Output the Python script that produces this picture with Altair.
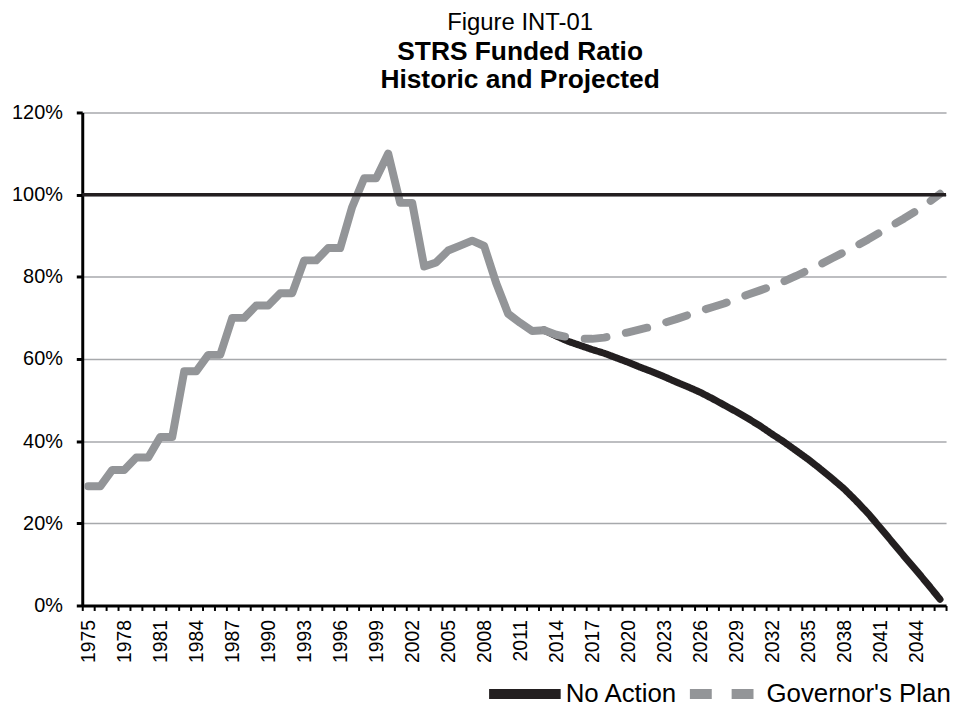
import altair as alt
import pandas as pd

# ---- data ----
hist_years = list(range(1975, 2014))
hist_values = [29, 29, 33, 33, 36, 36, 41, 41, 57, 57, 61, 61, 70, 70, 73, 73, 76, 76,
               84, 84, 87, 87, 97, 104, 104, 110, 98, 98, 82.5, 83.5, 86.4, 87.6, 88.8,
               87.5, 78.5, 71, 68.8, 66.8, 67]

proj_years = list(range(2013, 2047))
no_action = [67.0, 65.6, 64.3, 63.3, 62.3, 61.4, 60.3, 59.2, 58.0, 56.9, 55.7, 54.4,
             53.2, 51.9, 50.4, 48.8, 47.2, 45.5, 43.7, 41.7, 39.8, 37.7, 35.6, 33.3,
             30.9, 28.4, 25.5, 22.4, 19.0, 15.5, 12.0, 8.6, 5.1, 1.5]
governors_plan = [67.0, 65.9, 65.3, 64.9, 64.9, 65.2, 65.8, 66.5, 67.2, 67.9, 68.8, 69.7,
                  70.7, 71.7, 72.6, 73.5, 74.6, 75.7, 76.7, 77.7, 78.9, 80.2, 81.6, 83.0,
                  84.5, 86.0, 87.5, 89.1, 90.8, 92.5, 94.2, 96.0, 98.0, 100.2]

series_names = ["No Action", "Governor's Plan"]
series_colors = ["#231f20", "#939598"]
series_dash = [[1, 0], [22, 20]]

y_ticks = [0, 20, 40, 60, 80, 100, 120]
reference_level = [100]

FONT = "Liberation Sans"

hist_df = pd.DataFrame({"year": hist_years, "value": hist_values})
na_df = pd.DataFrame({"year": proj_years, "value": no_action, "series": series_names[0]})
gp_df = pd.DataFrame({"year": proj_years, "value": governors_plan, "series": series_names[1]})
ref_df = pd.DataFrame({"value": reference_level})

tick_vals = [1974.5 + k for k in range(73)]
x_enc = alt.X(
    "year:Q",
    title=None,
    scale=alt.Scale(domain=[1974.5, 2046.5], nice=False, zero=False),
    axis=alt.Axis(
        values=tick_vals,
        labelExpr="((datum.value + 0.5 - 1975) % 3 == 0) && datum.value < 2046 ? toString(datum.value + 0.5) : ''",
        labelOffset=6.04,
        labelAngle=270,
        labelAlign="right",
        labelBaseline="middle",
        labelFontSize=19.5,
        labelFont=FONT,
        labelColor="black",
        labelPadding=9,
        labelOverlap=False,
        labelBound=False,
        labelFlush=False,
        tickSize=5,
        tickWidth=2,
        tickColor="black",
        domainColor="black",
        domainWidth=3,
        grid=False,
    ),
)
y_enc = alt.Y(
    "value:Q",
    title=None,
    scale=alt.Scale(domain=[0, 120], nice=False),
    axis=alt.Axis(
        values=y_ticks,
        labelExpr="datum.value + '%'",
        labelFontSize=20,
        labelFont=FONT,
        labelColor="black",
        labelPadding=14,
        tickSize=6,
        tickWidth=3,
        tickColor="black",
        domainColor="black",
        domainWidth=3,
        grid=True,
        gridColor="#a7a9ac",
        gridWidth=1.5,
    ),
)

color_enc = alt.Color(
    "series:N",
    scale=alt.Scale(domain=series_names, range=series_colors),
    legend=alt.Legend(title=None),
)
dash_enc = alt.StrokeDash(
    "series:N",
    scale=alt.Scale(domain=series_names, range=series_dash),
    legend=alt.Legend(title=None),
)

hist = alt.Chart(hist_df).mark_line(
    color="#939598", strokeWidth=8, strokeJoin="round", strokeCap="round"
).encode(x=x_enc, y=y_enc)

na_line = alt.Chart(na_df).mark_line(
    strokeWidth=7, strokeCap="round", strokeJoin="round"
).encode(x=x_enc, y=y_enc, color=color_enc, strokeDash=dash_enc)

gp_line = alt.Chart(gp_df).mark_line(
    strokeWidth=8, strokeCap="round", strokeJoin="round"
).encode(x=x_enc, y=y_enc, color=color_enc, strokeDash=dash_enc)

ref_rule = alt.Chart(ref_df).mark_rule(color="#231f20", strokeWidth=3.5).encode(
    y=alt.Y("value:Q")
)

chart = (
    alt.layer(hist, na_line, gp_line, ref_rule)
    .properties(
        width=869,
        height=496,
        autosize=alt.AutoSizeParams(type="none"),
        padding={"left": 74.7, "top": 103, "right": 8, "bottom": 96},
        title=alt.TitleParams(
            text="Figure INT-01",
            subtitle=["STRS Funded Ratio", "Historic and Projected"],
            anchor="middle",
            frame="group",
            dx=6,
            font=FONT,
            fontSize=24,
            fontWeight="normal",
            color="black",
            subtitleFont=FONT,
            subtitleFontSize=26.5,
            subtitleFontWeight="bold",
            subtitleColor="black",
            subtitleLineHeight=28,
            subtitlePadding=4,
            offset=9,
        ),
    )
    .configure_view(stroke="transparent")
    .configure_legend(
        orient="none",
        legendX=404.3,
        legendY=544,
        direction="horizontal",
        symbolType="stroke",
        symbolSize=5184,
        symbolStrokeWidth=10,
        labelFont=FONT,
        labelFontSize=26,
        labelColor="black",
        labelOffset=0,
        labelLimit=400,
        columnPadding=-8,
        padding=0,
    )
)

chart.save("out.html", embed_options={"renderer": "svg", "actions": False})
